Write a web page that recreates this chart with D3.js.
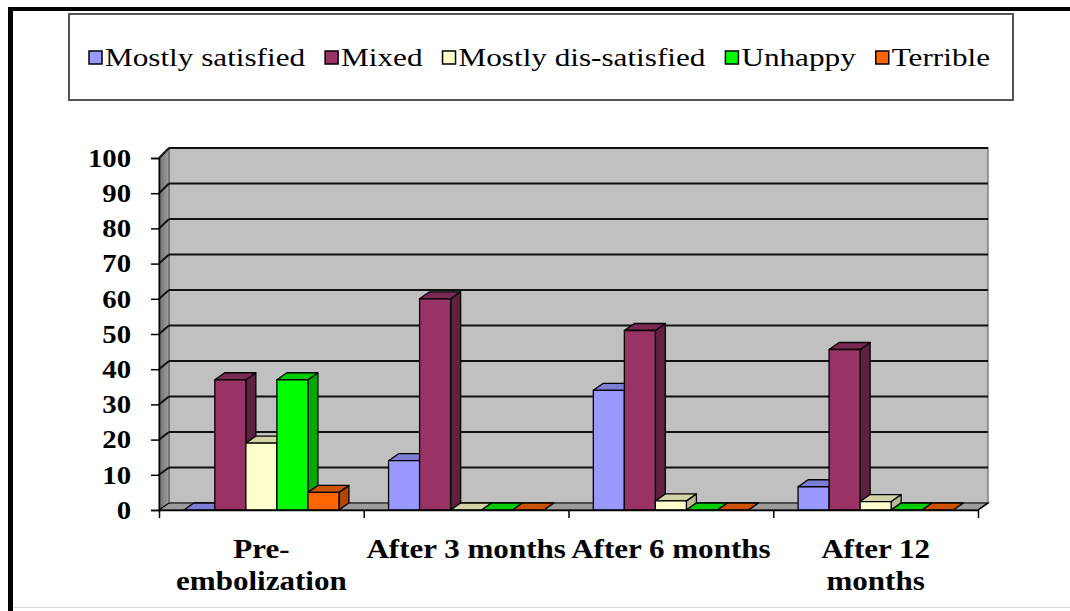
<!DOCTYPE html>
<html>
<head>
<meta charset="utf-8">
<script src="https://cdn.jsdelivr.net/npm/d3@7"></script>
<style>
  html, body { margin: 0; padding: 0; background: #fff; }
  svg { display: block; }
</style>
</head>
<body>
<svg id="chart" width="1070" height="611"></svg>
<script>
// Satisfaction over time (%), one series per answer
const categories = ["Pre-embolization", "After 3 months", "After 6 months", "After 12 months"];
const categoryLines = [["Pre-", "embolization"], ["After 3 months"], ["After 6 months"], ["After 12", "months"]];
const seriesNames = ["Mostly satisfied", "Mixed", "Mostly dis-satisfied", "Unhappy", "Terrible"];
const mostlySatisfied = [0, 14, 34, 6.6];
const mixed = [37, 60, 51, 45.6];
const mostlyDisSatisfied = [19, 0, 2.6, 2.4];
const unhappy = [37, 0, 0, 0];
const terrible = [5, 0, 0, 0];
const yTicks = [0, 10, 20, 30, 40, 50, 60, 70, 80, 90, 100];

const seriesValues = [mostlySatisfied, mixed, mostlyDisSatisfied, unhappy, terrible];
const palette = {
  "Mostly satisfied":     { front: "#9999ff", top: "#7d7dd6", side: "#6a6ab8" },
  "Mixed":                { front: "#993366", top: "#7a2a52", side: "#60203f" },
  "Mostly dis-satisfied": { front: "#ffffcc", top: "#d2d2a6", side: "#b8b892" },
  "Unhappy":              { front: "#00ff00", top: "#00cc00", side: "#00aa00" },
  "Terrible":             { front: "#ff6600", top: "#cc5200", side: "#b04600" }
};

const svg = d3.select("#chart");
svg.append("rect").attr("width", 1070).attr("height", 611).attr("fill", "#fff");

// page frame
svg.append("rect").attr("x", 8).attr("y", 7).attr("width", 1062).attr("height", 4).attr("fill", "#000");
svg.append("rect").attr("x", 8).attr("y", 7).attr("width", 5).attr("height", 604).attr("fill", "#000");
svg.append("line").attr("x1", 13).attr("x2", 1070).attr("y1", 607.5).attr("y2", 607.5)
  .attr("stroke", "#d8d8d8").attr("stroke-width", 1);

// scales
const xLeft = 159, xRight = 978;
const depthX = 10;
const x = d3.scaleBand().domain(categories).range([xLeft, xRight]).padding(0);
const xs = d3.scaleBand().domain(seriesNames).range([0, x.bandwidth()]).paddingInner(0).paddingOuter(0.8);
const y = d3.scaleLinear().domain([0, 100]).range([510, 158]);
const yBack = d3.scaleLinear().domain([0, 100]).range([503, 148]);
const barDy = -7;

const plot = svg.append("g");

// back wall
plot.append("rect")
  .attr("x", xLeft + depthX).attr("y", yBack(100))
  .attr("width", xRight - xLeft).attr("height", yBack(0) - yBack(100))
  .attr("fill", "#c0c0c0").attr("stroke", "#808080").attr("stroke-width", 1.5);

// side wall
const sideGrad = svg.append("defs").append("linearGradient").attr("id", "sideWall")
  .attr("x1", "0").attr("x2", "1").attr("y1", "0").attr("y2", "0");
sideGrad.append("stop").attr("offset", "0").attr("stop-color", "#707070");
sideGrad.append("stop").attr("offset", "1").attr("stop-color", "#a0a0a0");
plot.append("polygon")
  .attr("points", [[xLeft, y(100)], [xLeft + depthX, yBack(100)], [xLeft + depthX, yBack(0)], [xLeft, y(0)]].join(" "))
  .attr("fill", "url(#sideWall)").attr("stroke", "#555").attr("stroke-width", 1);

// floor
plot.append("polygon")
  .attr("points", [[xLeft, y(0)], [xLeft + depthX, yBack(0)], [xRight + depthX, yBack(0)], [xRight, y(0)]].join(" "))
  .attr("fill", "#9c9c9c").attr("stroke", "#000").attr("stroke-width", 1.2);

// gridlines on back and side walls
const grid = plot.append("g").attr("stroke", "#111").attr("stroke-width", 2);
yTicks.filter(v => v > 0).forEach(v => {
  grid.append("line")
    .attr("x1", xLeft + depthX).attr("x2", xRight + depthX)
    .attr("y1", yBack(v)).attr("y2", yBack(v));
  grid.append("line")
    .attr("x1", xLeft).attr("x2", xLeft + depthX)
    .attr("y1", y(v)).attr("y2", yBack(v));
});

// bars (front, top and side faces), drawn left to right
const bars = plot.append("g").attr("stroke", "#000").attr("stroke-width", 1.3).attr("stroke-linejoin", "round");
categories.forEach((cat, ci) => {
  seriesNames.forEach((name, si) => {
    const v = seriesValues[si][ci];
    const x0 = x(cat) + xs(name);
    const w = xs.bandwidth();
    const yt = y(v), yb = y(0);
    const c = palette[name];
    const g = bars.append("g");
    g.append("polygon")
      .attr("points", [[x0 + w, yt], [x0 + w + depthX, yt + barDy], [x0 + w + depthX, yb + barDy], [x0 + w, yb]].join(" "))
      .attr("fill", c.side);
    g.append("polygon")
      .attr("points", [[x0, yt], [x0 + depthX, yt + barDy], [x0 + w + depthX, yt + barDy], [x0 + w, yt]].join(" "))
      .attr("fill", c.top);
    if (v > 0) {
      g.append("rect").attr("x", x0).attr("y", yt).attr("width", w).attr("height", yb - yt)
        .attr("fill", c.front);
    }
  });
});

// y axis
const yAxis = svg.append("g").attr("transform", `translate(${xLeft},0)`)
  .call(d3.axisLeft(y).tickValues(yTicks).tickSize(8).tickFormat(""));
yAxis.select(".domain").attr("stroke", "#000").attr("stroke-width", 1.5);
yAxis.selectAll(".tick line").attr("stroke", "#000").attr("stroke-width", 1.5);

yTicks.forEach(v => {
  svg.append("text")
    .attr("transform", `translate(131,${y(v)}) scale(1.15,1)`)
    .attr("text-anchor", "end").attr("dy", "0.35em")
    .attr("font-family", "'Liberation Serif', 'Times New Roman', serif")
    .attr("font-weight", "bold").attr("font-size", 25).attr("fill", "#000")
    .text(v);
});

// x axis with ticks at the category boundaries
const bounds = d3.scaleLinear().domain([0, categories.length]).range([xLeft, xRight]);
const xAxis = svg.append("g").attr("transform", `translate(0,${y(0)})`)
  .call(d3.axisBottom(bounds).tickValues(d3.range(categories.length + 1)).tickSize(8).tickSizeOuter(0).tickFormat(""));
xAxis.select(".domain").attr("stroke", "#000").attr("stroke-width", 1.5);
xAxis.selectAll(".tick line").attr("stroke", "#000").attr("stroke-width", 1.5);
svg.append("line")
  .attr("x1", xRight).attr("y1", y(0)).attr("x2", xRight + depthX).attr("y2", yBack(0))
  .attr("stroke", "#000").attr("stroke-width", 1.5);

categories.forEach((cat, ci) => {
  categoryLines[ci].forEach((line, li) => {
    svg.append("text")
      .attr("transform", `translate(${x(cat) + x.bandwidth() / 2},${558 + li * 32}) scale(1.15,1)`)
      .attr("text-anchor", "middle")
      .attr("font-family", "'Liberation Serif', 'Times New Roman', serif")
      .attr("font-weight", "bold").attr("font-size", 27).attr("fill", "#000")
      .text(line);
  });
});

// legend
svg.append("rect").attr("x", 69).attr("y", 14).attr("width", 944).attr("height", 86)
  .attr("fill", "#fff").attr("stroke", "#555").attr("stroke-width", 2);
let lx = 89;
const legendScale = 1.2;
seriesNames.forEach(name => {
  svg.append("rect").attr("x", lx).attr("y", 51).attr("width", 13).attr("height", 13)
    .attr("fill", palette[name].front).attr("stroke", "#000").attr("stroke-width", 1.5);
  const t = svg.append("text")
    .attr("transform", `translate(${lx + 16},66) scale(${legendScale},1)`)
    .attr("font-family", "'Liberation Serif', 'Times New Roman', serif")
    .attr("font-size", 26).attr("fill", "#000")
    .text(name);
  lx += 16 + t.node().getComputedTextLength() * legendScale + 20;
});
</script>
</body>
</html>
